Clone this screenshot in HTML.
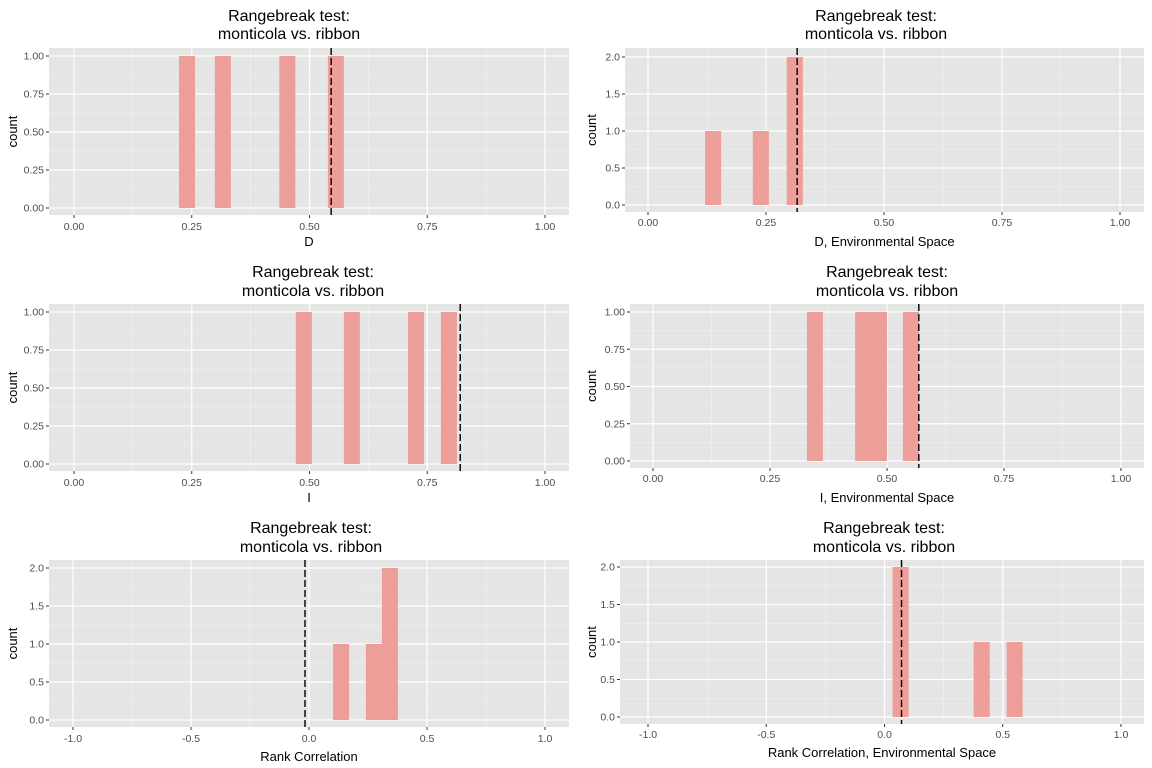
<!DOCTYPE html>
<html><head><meta charset="utf-8"><style>
html,body{margin:0;padding:0;background:#fff;}
svg{display:block;font-family:"Liberation Sans",sans-serif;}
</style></head><body>
<svg id="c" width="1152" height="768" xmlns="http://www.w3.org/2000/svg"></svg>
<script>
// Panel data
const titles = ["Rangebreak test:", "monticola vs. ribbon"];
const xLabels = ["D", "D, Environmental Space", "I", "I, Environmental Space", "Rank Correlation", "Rank Correlation, Environmental Space"];
const xTicks01 = ["0.00", "0.25", "0.50", "0.75", "1.00"];
const xTicksCor = ["-1.0", "-0.5", "0.0", "0.5", "1.0"];
const yTicks1 = ["0.00", "0.25", "0.50", "0.75", "1.00"];
const yTicks2 = ["0.0", "0.5", "1.0", "1.5", "2.0"];
const binsD = [0.240, 0.316, 0.453, 0.556];
const countsD = [1, 1, 1, 1];
const obsD = 0.546;
const binsDE = [0.138, 0.239, 0.311];
const countsDE = [1, 1, 2];
const obsDE = 0.316;
const binsI = [0.488, 0.590, 0.726, 0.796];
const countsI = [1, 1, 1, 1];
const obsI = 0.820;
const binsIE = [0.346, 0.449, 0.483, 0.551];
const countsIE = [1, 1, 1, 1];
const obsIE = 0.568;
const binsC = [0.136, 0.275, 0.343];
const countsC = [1, 1, 2];
const obsC = -0.017;
const binsCE = [0.068, 0.411, 0.550];
const countsCE = [2, 1, 1];
const obsCE = 0.072;

const panels = [
 {name:"d", bins:binsD, counts:countsD, obs:obsD, xl:xLabels[0], xt:xTicks01, yt:yTicks1, xmin:0, xmax:1, ymax:1, bw:0.034,
  L:49,R:569,T:48,B:215, x0:74,x1:545, y0:208,y1:56, tx:289, ty1:21, ty2:39, xly:226, xty:246, ylx:12},
 {name:"d-env", bins:binsDE, counts:countsDE, obs:obsDE, xl:xLabels[1], xt:xTicks01, yt:yTicks2, xmin:0, xmax:1, ymax:2, bw:0.034,
  L:625,R:1144,T:48,B:212, x0:648,x1:1120, y0:205,y1:57, tx:876, ty1:21, ty2:39, xly:222, xty:246, ylx:591},
 {name:"i", bins:binsI, counts:countsI, obs:obsI, xl:xLabels[2], xt:xTicks01, yt:yTicks1, xmin:0, xmax:1, ymax:1, bw:0.034,
  L:49,R:569,T:304,B:471, x0:74,x1:545, y0:464,y1:312, tx:313, ty1:277, ty2:296, xly:482, xty:502, ylx:12},
 {name:"i-env", bins:binsIE, counts:countsIE, obs:obsIE, xl:xLabels[3], xt:xTicks01, yt:yTicks1, xmin:0, xmax:1, ymax:1, bw:0.034,
  L:630,R:1144,T:304,B:468, x0:653,x1:1121, y0:461,y1:312, tx:887, ty1:277, ty2:296, xly:478, xty:502, ylx:591},
 {name:"rank", bins:binsC, counts:countsC, obs:obsC, xl:xLabels[4], xt:xTicksCor, yt:yTicks2, xmin:-1, xmax:1, ymax:2, bw:0.068,
  L:49,R:569,T:560,B:727, x0:73,x1:545, y0:720,y1:568, tx:311, ty1:533, ty2:552, xly:738, xty:761, ylx:12},
 {name:"rank-env", bins:binsCE, counts:countsCE, obs:obsCE, xl:xLabels[5], xt:xTicksCor, yt:yTicks2, xmin:-1, xmax:1, ymax:2, bw:0.068,
  L:620,R:1144,T:560,B:724, x0:648,x1:1121, y0:717,y1:567, tx:884, ty1:533, ty2:552, xly:734, xty:757, ylx:591}
];
const NS="http://www.w3.org/2000/svg";
const svg=document.getElementById('c');
function mk(tag,attrs,parent){const e=document.createElementNS(NS,tag);for(const k in attrs)e.setAttribute(k,attrs[k]);(parent||svg).appendChild(e);return e;}
panels.forEach(p=>{
 const g=mk('g',{});
 
 
 const sx=v=>p.x0+(v-p.xmin)/(p.xmax-p.xmin)*(p.x1-p.x0);
 const sy=v=>p.y0+(v/p.ymax)*(p.y1-p.y0);
 const bg=mk('rect',{x:p.L,y:p.T,width:p.R-p.L,height:p.B-p.T,fill:'#E5E5E5'},g);
 
 
 const n=p.xt.length, step=(p.xmax-p.xmin)/(n-1);
 for(let i=0;i<n-1;i++){const x=sx(p.xmin+step*(i+0.5));mk('line',{x1:x,x2:x,y1:p.T,y2:p.B,stroke:'#F2F2F2','stroke-width':0.6},g);}
 for(let i=0;i<p.yt.length-1;i++){const y=sy(p.ymax*(i+0.5)/(p.yt.length-1));mk('line',{x1:p.L,x2:p.R,y1:y,y2:y,stroke:'#F2F2F2','stroke-width':0.6},g);}
 p.xt.forEach((t,i)=>{const x=sx(p.xmin+step*i);
  mk('line',{x1:x,x2:x,y1:p.T,y2:p.B,stroke:'#fff','stroke-width':1.2},g);
  mk('line',{x1:x,x2:x,y1:p.B,y2:p.B+3,stroke:'#333','stroke-width':1},g);
  const tx=mk('text',{x:x,y:p.xly+4,'text-anchor':'middle','font-size':10.5,fill:'#4D4D4D'},g);tx.textContent=t;
  
  });
 p.yt.forEach((t,i)=>{const y=sy(p.ymax*i/(p.yt.length-1));
  mk('line',{x1:p.L,x2:p.R,y1:y,y2:y,stroke:'#fff','stroke-width':1.2},g);
  mk('line',{x1:p.L-3,x2:p.L,y1:y,y2:y,stroke:'#333','stroke-width':1},g);
  const ty=mk('text',{x:p.L-5,y:y+3.5,'text-anchor':'end','font-size':10.5,fill:'#4D4D4D'},g);ty.textContent=t;
  
  });
 p.bins.forEach((b,i)=>{
  const xa=sx(b-p.bw/2), xb=sx(b+p.bw/2), yt=sy(p.counts[i]);
  const r=mk('rect',{x:xa,y:yt,width:xb-xa,height:p.y0-yt,fill:'#EE9E99'},g);
  
  
 });
 const ox=sx(p.obs);
 const vl=mk('line',{x1:ox,x2:ox,y1:p.T,y2:p.B,stroke:'#000','stroke-width':1.4,'stroke-dasharray':'7,3'},g);
 
 
 const t1=mk('text',{x:p.tx,y:p.ty1,'text-anchor':'middle','font-size':16,fill:'#000'},g);t1.textContent=titles[0];
 
 
 const t2=mk('text',{x:p.tx,y:p.ty2,'text-anchor':'middle','font-size':16,fill:'#000'},g);t2.textContent=titles[1];
 
 
 const xt=mk('text',{x:(p.L+p.R)/2,y:p.xty,'text-anchor':'middle','font-size':13,fill:'#000'},g);xt.textContent=p.xl;
 
 
 const cy=(p.T+p.B)/2;
 const yl=mk('text',{x:0,y:0,'text-anchor':'middle','font-size':13,fill:'#000',transform:`translate(${p.ylx+5},${cy}) rotate(-90)`},g);yl.textContent='count';
 
 
});
</script>
</body></html>
